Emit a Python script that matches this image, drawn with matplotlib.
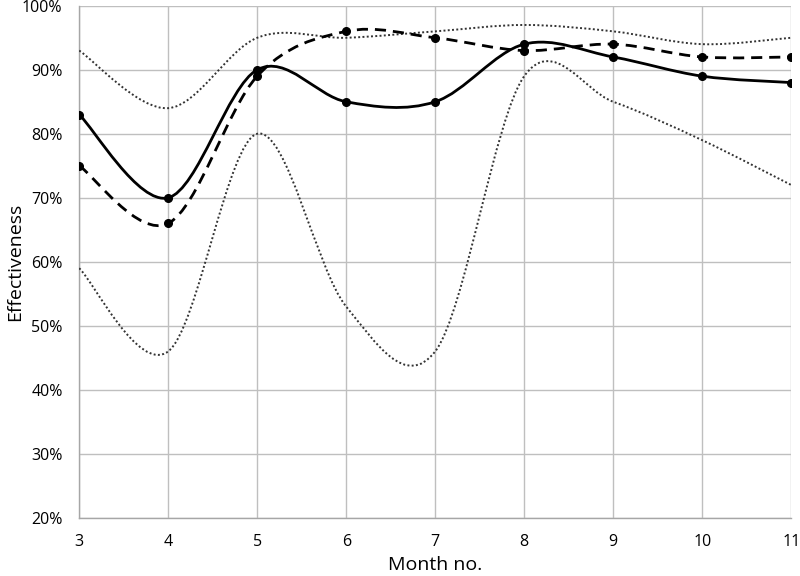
import numpy as np
import matplotlib
matplotlib.use("Agg")
import matplotlib.pyplot as plt
from matplotlib.path import Path
from matplotlib.patches import PathPatch
from matplotlib.ticker import PercentFormatter

months = [3, 4, 5, 6, 7, 8, 9, 10, 11]
solid_vals = [83, 70, 90, 85, 85, 94, 92, 89, 88]
dashed_vals = [75, 66, 89, 96, 95, 93, 94, 92, 92]
upper_vals = [93, 84, 95, 95, 96, 97, 96, 94, 95]
lower_vals = [59, 46, 80, 53, 46, 89, 85, 79, 72]

plt.rcParams['font.family'] = ['Open Sans', 'DejaVu Sans']

fig = plt.figure(figsize=(8.0, 5.76), dpi=100)
ax = fig.add_axes([0.099, 0.101, 0.890, 0.889])


def smooth_path(xs, ys):
    # Excel-like smoothed line: cubic Bezier through points (Catmull-Rom tangents)
    pts = np.column_stack([xs, ys]).astype(float)
    n = len(pts)
    verts = [pts[0]]
    codes = [Path.MOVETO]
    for i in range(n - 1):
        p0 = pts[i - 1] if i > 0 else pts[i]
        p1 = pts[i]
        p2 = pts[i + 1]
        p3 = pts[i + 2] if i + 2 < n else pts[i + 1]
        c1 = p1 + (p2 - p0) / 6.0
        c2 = p2 - (p3 - p1) / 6.0
        verts += [c1, c2, p2]
        codes += [Path.CURVE4] * 3
    return Path(verts, codes)


def add_curve(ys, **kw):
    patch = PathPatch(smooth_path(months, ys), fill=False, capstyle='butt', **kw)
    ax.add_patch(patch)


add_curve(upper_vals, edgecolor='#333333', linewidth=1.4, linestyle=(0, (1, 1.2)), zorder=3)
add_curve(lower_vals, edgecolor='#333333', linewidth=1.4, linestyle=(0, (1, 1.2)), zorder=3)
add_curve(dashed_vals, edgecolor='black', linewidth=2.0, linestyle=(0, (4, 2.5)), zorder=4)
add_curve(solid_vals, edgecolor='black', linewidth=2.0, linestyle='-', zorder=5)
ax.plot(months, dashed_vals, linestyle='none', marker='o', markersize=5.5, color='black', zorder=6)
ax.plot(months, solid_vals, linestyle='none', marker='o', markersize=5.5, color='black', zorder=6)

ax.set_xlim(3, 11)
ax.set_ylim(20, 100)
ax.set_xticks(months)
ax.set_yticks(np.arange(20, 101, 10))
ax.yaxis.set_major_formatter(PercentFormatter(decimals=0))
ax.grid(True, color='#bfbfbf', linewidth=1.0, zorder=0)
ax.set_axisbelow(True)
for s in ['top', 'right']:
    ax.spines[s].set_visible(False)
for s in ['left', 'bottom']:
    ax.spines[s].set_color('#a6a6a6')
    ax.spines[s].set_linewidth(1.0)
ax.tick_params(length=0, labelsize=11.5, colors='#000000')
ax.tick_params(axis='y', pad=12)
ax.tick_params(axis='x', pad=12)
ax.set_xlabel('Month no.', fontsize=14)
ax.set_ylabel('Effectiveness', fontsize=14)
ax.xaxis.set_label_coords(0.5, -0.074)
ax.yaxis.set_label_coords(-0.078, 0.5)

fig.savefig('out.png', dpi=100)
